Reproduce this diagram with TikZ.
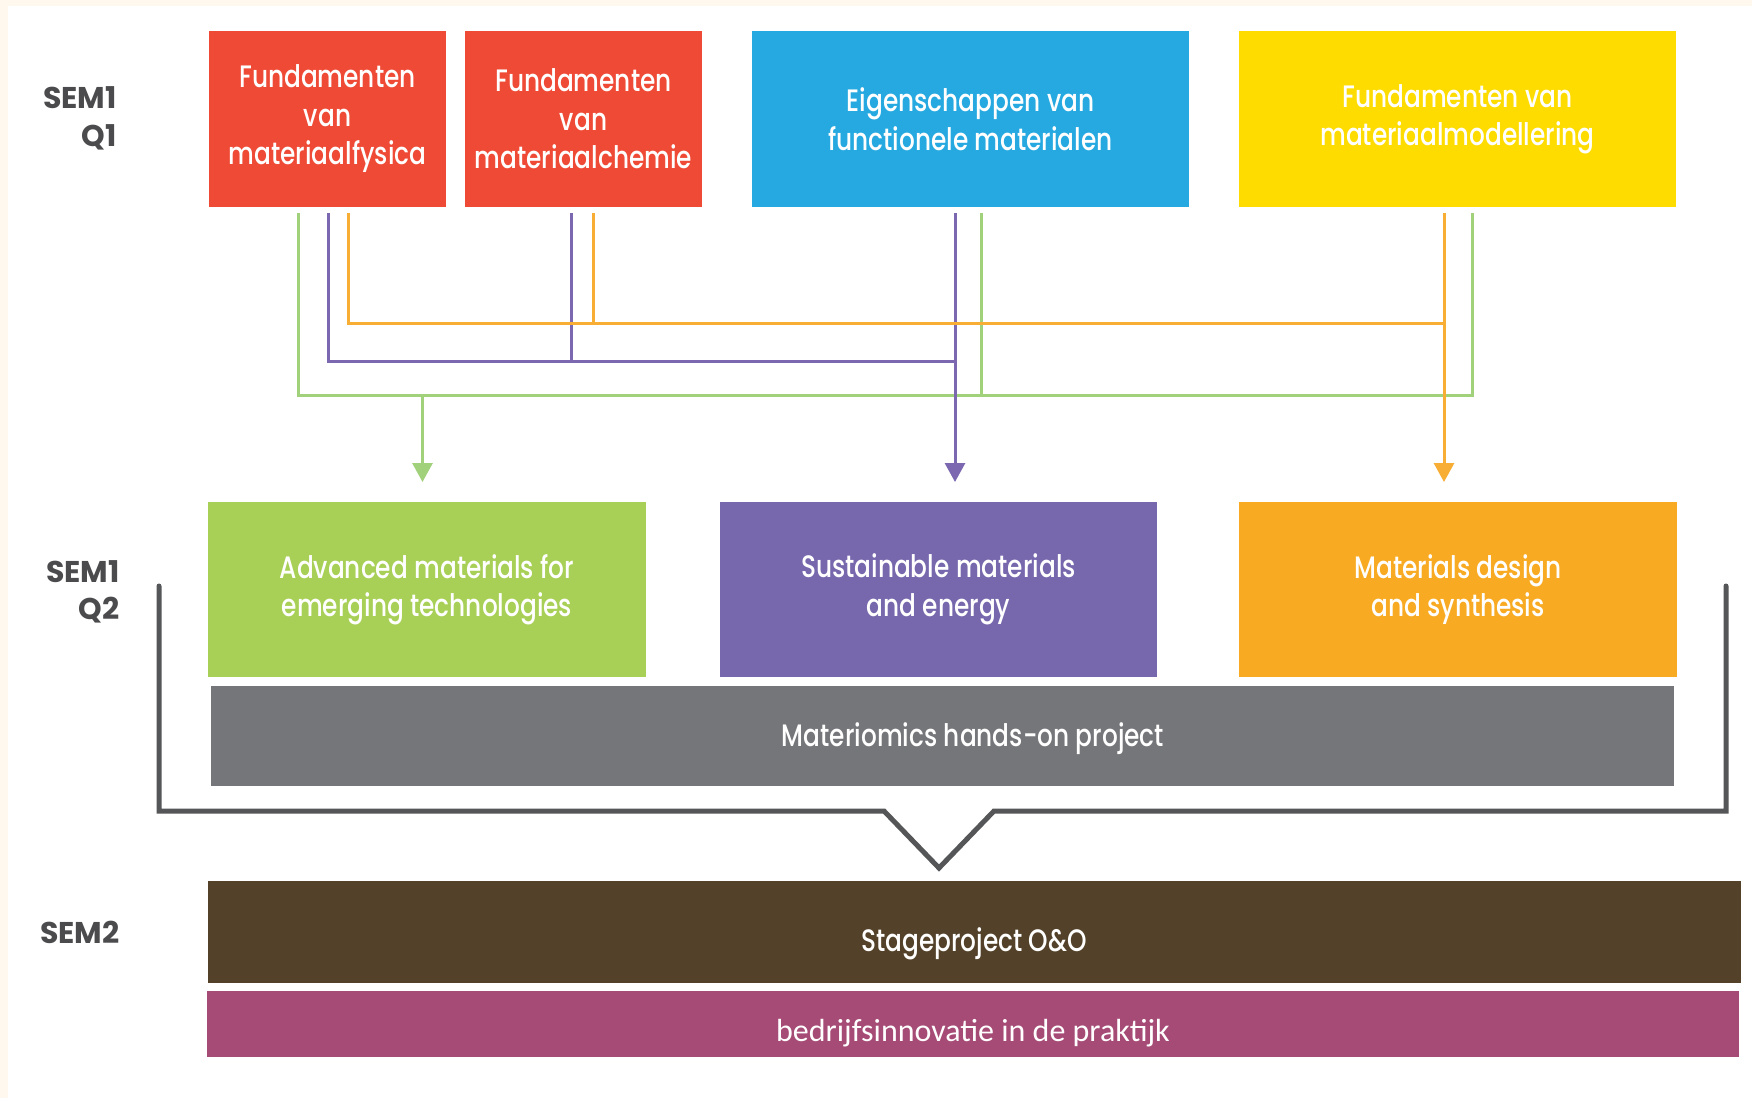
\documentclass[tikz,border=0pt]{standalone}
\usepackage{fontspec}
\usetikzlibrary{arrows.meta,calc}
\newfontfamily\geofont[FakeStretch=0.80]{Poppins Medium}
\newfontfamily\labelfont{Poppins Bold}
\newfontfamily\calfont{Carlito}

\definecolor{cream}{HTML}{FFF8EE}
\definecolor{cRed}{HTML}{EF4A36}
\definecolor{cBlue}{HTML}{25A9E0}
\definecolor{cYellow}{HTML}{FEDC00}
\definecolor{cGreen}{HTML}{A8D057}
\definecolor{cPurple}{HTML}{7767AD}
\definecolor{cOrange}{HTML}{F8AA22}
\definecolor{cGray}{HTML}{75767A}
\definecolor{cBrown}{HTML}{534229}
\definecolor{cMagenta}{HTML}{A64B76}
\definecolor{lGreen}{HTML}{A2D17C}
\definecolor{lPurple}{HTML}{7B68B0}
\definecolor{lOrange}{HTML}{F8AE35}
\definecolor{bracketgray}{HTML}{555657}
\definecolor{labelgray}{HTML}{4B4B4D}

\tikzset{
  course/.style={rectangle, inner sep=0pt, outer sep=0pt, text=white, align=center,
    font=\geofont\fontsize{15.5}{19.25}\selectfont},
  lowered/.style={execute at begin node={\rule{0pt}{#1}}},
  semlabel/.style={anchor=east, align=right, text=labelgray, inner sep=0pt,
    font=\labelfont\fontsize{15}{18.75}\selectfont},
  bandtext/.style={anchor=base, text=white, inner sep=0pt,
    font=\geofont\fontsize{15.5}{18.75}\selectfont},
  link/.style={line width=1.5pt},
  tip/.style={-{Triangle[width=10pt,length=9.5pt]}},
}

\begin{document}
\begin{tikzpicture}[x=0.5pt,y=-0.5pt]
\useasboundingbox (0,0) rectangle (1752,1098);
\fill[cream] (0,0) rectangle (1752,1098);
\fill[white] (8,6) rectangle (1752,1098);

% first quarter courses
\node[course, lowered=15pt, fill=cRed, minimum width=118.5pt, minimum height=88pt] (fys) at (327.5,119)
  {Fundamenten\\van\\materiaalfysica};
\node[course, lowered=15pt, fill=cRed, minimum width=118.5pt, minimum height=88pt] (chem) at (583.5,119)
  {Fundamenten\\van\\materiaalchemie};
\node[course, lowered=15pt, fill=cBlue, minimum width=218.5pt, minimum height=88pt] (func) at (970.5,119)
  {Eigenschappen van\\functionele materialen};
\node[course, lowered=15pt, fill=cYellow, minimum width=218.5pt, minimum height=88pt] (model) at (1457.5,119)
  {Fundamenten van\\materiaalmodellering};

% second quarter tracks
\node[course, lowered=13pt, fill=cGreen, minimum width=219pt, minimum height=87.5pt] (adv) at (427,589.5)
  {Advanced materials for\\emerging technologies};
\node[course, lowered=13pt, fill=cPurple, minimum width=218.5pt, minimum height=87.5pt] (sust) at (938.5,589.5)
  {Sustainable materials\\and energy};
\node[course, lowered=13pt, fill=cOrange, minimum width=219pt, minimum height=87.5pt] (design) at (1458,589.5)
  {Materials design\\and synthesis};

% shared project band and second semester
\node[course, fill=cGray, minimum width=731.5pt, minimum height=50pt] (hands) at (942.5,736) {};
\node[bandtext] (handst) at (973,746) {Materiomics hands-on project};
\node[course, fill=cBrown, minimum width=766.5pt, minimum height=51pt] (stage) at (974.5,932) {};
\node[bandtext] (staget) at (974,951) {Stageproject O\&O};
\node[course, fill=cMagenta, minimum width=766pt, minimum height=33pt] (innov) at (973,1024) {};
\node[bandtext, font=\calfont\fontsize{16}{19}\selectfont] (innovt) at (973,1041)
  {bedrijfsinnovatie in de praktijk};

% green track: all four feed the advanced materials track
\draw[link, lGreen] ($(fys.south)+(-29,6)$) |- ($(model.south)+(14.5,188)$) -- ($(model.south)+(14.5,6)$);
\draw[link, lGreen] ($(func.south)+(10.5,6)$) -- ($(func.south)+(10.5,188)$);
\draw[link, lGreen, tip] ($(adv.north)+(-4.5,-107)$) -- ($(adv.north)+(-4.5,-20)$);

% purple track
\draw[link, lPurple] ($(fys.south)+(0.5,6)$) |- ($(func.south)+(-15.5,154)$);
\draw[link, lPurple] ($(chem.south)+(-12.5,6)$) -- ($(chem.south)+(-12.5,154)$);
\draw[link, lPurple, tip] ($(func.south)+(-15.5,6)$) -- ($(sust.north)+(16.5,-20)$);

% orange track
\draw[link, lOrange] ($(fys.south)+(21,6)$) |- ($(model.south)+(-13.5,116)$);
\draw[link, lOrange] ($(chem.south)+(9.5,6)$) -- ($(chem.south)+(9.5,116)$);
\draw[link, lOrange, tip] ($(model.south)+(-13.5,6)$) -- ($(design.north)+(-14,-20)$);

% bracket gathering the first semester into the internship
\draw[bracketgray, line width=2.5pt, line cap=round, line join=miter]
  (159,586) -- (159,811) -- (884,811) -- (939,868) -- (994,811) -- (1726,811) -- (1726,586);

% semester labels
\node[semlabel] (q1) at (117,118.5) {SEM1\\Q1};
\node[semlabel] (q2) at (120,592) {SEM1\\Q2};
\node[semlabel, anchor=base east] (s2) at (120,943) {SEM2};
\end{tikzpicture}
\end{document}
